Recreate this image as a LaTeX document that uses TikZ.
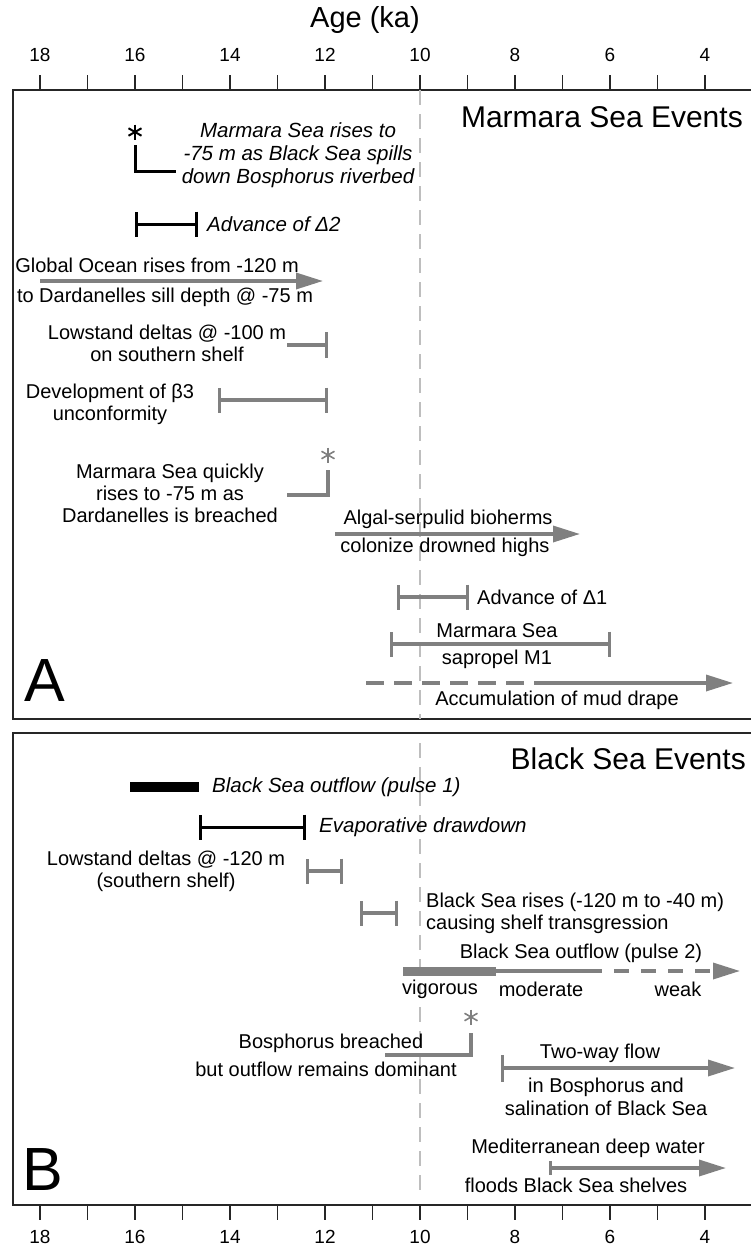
\documentclass[tikz,border=0pt]{standalone}
\usepackage{fontspec}
\setmainfont{Liberation Sans}
\usetikzlibrary{arrows.meta}
\definecolor{barGray}{RGB}{128,128,128}
\definecolor{guideGray}{RGB}{190,190,190}

\begin{document}
\begin{tikzpicture}[
    x=1pt, y=-1pt,
    evtxt/.style={
        inner sep=0pt,
        align=center,
        font=\fontsize{20}{22}\selectfont
    },
    evital/.style={
        inner sep=0pt,
        align=center,
        font=\fontsize{20.5}{23}\selectfont\itshape
    },
    heading/.style={
        inner sep=0pt,
        anchor=east,
        font=\fontsize{30}{32}\selectfont
    },
    panelletter/.style={
        inner sep=0pt,
        font=\fontsize{61}{64}\selectfont
    },
    scaletxt/.style={
        inner sep=0pt,
        font=\fontsize{19}{21}\selectfont
    },
    panelframe/.style={draw=black!85, line width=1.8pt},
    guide/.style={draw=guideGray, line width=1.6pt, dash pattern=on 15pt off 9pt},
    blackline/.style={draw=black, line width=3pt},
    grayline/.style={draw=barGray, line width=3.4pt},
    interval/.style={{Bar[width=25pt]}-{Bar[width=25pt]}},
    arrowtip/.style={-{Triangle[length=27pt,width=16pt]}}
]
\useasboundingbox (0,0) rectangle (751,1247);

% axis and panels
\node[inner sep=0pt, font=\fontsize{29}{31}\selectfont] (ageTitle) at (365,20) {Age (ka)};
\draw[panelframe] (13,90) rectangle (760,719);
\draw[panelframe] (13,733) rectangle (760,1205);
\foreach \t in {18,17,...,4} {
    \draw[black!85, line width=1.8pt] ({420+(10-\t)*47.5},75) -- ({420+(10-\t)*47.5},90);
    \draw[black!85, line width=1.8pt] ({420+(10-\t)*47.5},1205) -- ({420+(10-\t)*47.5},1220);
}
\foreach \t in {18,16,...,4} {
    \node[scaletxt] (top\t) at ({420+(10-\t)*47.5},55) {\t};
    \node[scaletxt] (bot\t) at ({420+(10-\t)*47.5},1237) {\t};
}
\draw[guide] (420,90) -- (420,719);
\draw[guide] (420,743) -- (420,1192);

% A: Marmara Sea
\node[heading] (titleA) at (743,117) {Marmara Sea Events};
\node[panelletter] (letterA) at (44.5,681) {A};

\coordinate (astA) at (135,132);
\foreach \a in {90,30,150} \draw[black, line width=2pt] (astA) ++(\a:7.5pt) -- ++(\a+180:15pt);
\draw[blackline] (135,145) -- (135,171) -- (176,171);
\node[evital] (spill) at (298,155) {Marmara Sea rises to\\-75 m as Black Sea spills\\down Bosphorus riverbed};

\draw[blackline, interval] (135,224) -- (198,224);
\node[evital, anchor=west] (deltaTwo) at (207,224) {Advance of Δ2};

\draw[grayline, arrowtip] (40,281) -- (323,281);
\node[evtxt] (oceanTop) at (157,265) {Global Ocean rises from -120 m};
\node[evtxt] (oceanBot) at (165,297) {to Dardanelles sill depth @ -75 m};

\node[evtxt] (lowA) at (167,343) {Lowstand deltas @ -100 m\\on southern shelf};
\draw[grayline, -{Bar[width=26pt]}] (287,345) -- (328,345);

\node[evtxt] (betaThree) at (110,404) {Development of β3\\unconformity};
\draw[grayline, interval] (218,400) -- (328,400);

\coordinate (astB) at (328,455);
\foreach \a in {90,30,150} \draw[barGray, line width=1.6pt] (astB) ++(\a:7.5pt) -- ++(\a+180:15pt);
\draw[grayline] (328,470) -- (328,495) -- (287,495);
\node[evtxt] (quickRise) at (170,493) {Marmara Sea quickly\\rises to -75 m as\\Dardanelles is breached};

\node[evtxt] (algalTop) at (448,519) {Algal-serpulid bioherms};
\draw[grayline, arrowtip] (335,534) -- (580,534);
\node[evtxt] (algalBot) at (445,547) {colonize drowned highs};

\draw[grayline, interval] (397,597) -- (469,597);
\node[evtxt, anchor=west] (deltaOne) at (477,597) {Advance of Δ1};

\node[evtxt] (sapTop) at (497,631) {Marmara Sea};
\draw[grayline, interval] (390,644) -- (611,644);
\node[evtxt] (sapBot) at (497,659) {sapropel M1};

\draw[grayline, dash pattern=on 18pt off 10pt] (366,683) -- (538,683);
\draw[grayline, arrowtip] (538,683) -- (733,683);
\node[evtxt] (mudDrape) at (557,700) {Accumulation of mud drape};

% B: Black Sea
\node[heading] (titleB) at (746,759) {Black Sea Events};
\node[panelletter] (letterB) at (42.5,1170) {B};

\draw[black, line width=10pt] (130,787) -- (199,787);
\node[evital, anchor=west] (pulseOne) at (212,787) {Black Sea outflow (pulse 1)};

\draw[blackline, interval] (199,827) -- (306,827);
\node[evital, anchor=west] (evapo) at (319,827) {Evaporative drawdown};

\node[evtxt] (lowB) at (166,871) {Lowstand deltas @ -120 m\\(southern shelf)};
\draw[grayline, interval] (306,871) -- (343,871);

\draw[grayline, interval] (360,913) -- (398,913);
\node[evtxt, anchor=west, align=left] (riseB) at (426,913) {Black Sea rises (-120 m to -40 m)\\causing shelf transgression};

\node[evtxt] (pulseTwo) at (581,953) {Black Sea outflow (pulse 2)};
\draw[barGray, line width=9pt] (403,971) -- (496,971);
\draw[grayline] (496,971) -- (587,971);
\draw[grayline, dash pattern=on 15pt off 12pt] (587,971) -- (713,971);
\draw[grayline, arrowtip] (713,971) -- (740,971);
\node[evtxt] (vigorous) at (440,989) {vigorous};
\node[evtxt] (moderate) at (541,989) {moderate};
\node[evtxt] (weak) at (678,989) {weak};

\coordinate (astC) at (471,1017);
\foreach \a in {90,30,150} \draw[barGray, line width=1.6pt] (astC) ++(\a:7.5pt) -- ++(\a+180:15pt);
\draw[grayline] (471,1033) -- (471,1055) -- (385,1055);
\node[evtxt] (bosTop) at (331,1043) {Bosphorus breached};
\node[evtxt] (bosBot) at (326,1069) {but outflow remains dominant};

\node[evtxt] (twoWayTop) at (600,1053) {Two-way flow};
\draw[grayline, {Bar[width=27pt]}-{Triangle[length=27pt,width=16pt]}] (501,1068) -- (735,1068);
\node[evtxt] (twoWayBot) at (606,1097) {in Bosphorus and\\[1pt]salination of Black Sea};

\node[evtxt] (medTop) at (588,1148) {Mediterranean deep water};
\draw[grayline, {Bar[width=14pt]}-{Triangle[length=27pt,width=16pt]}] (549,1168) -- (726,1168);
\node[evtxt] (medBot) at (576,1185) {floods Black Sea shelves};

\end{tikzpicture}
\end{document}
